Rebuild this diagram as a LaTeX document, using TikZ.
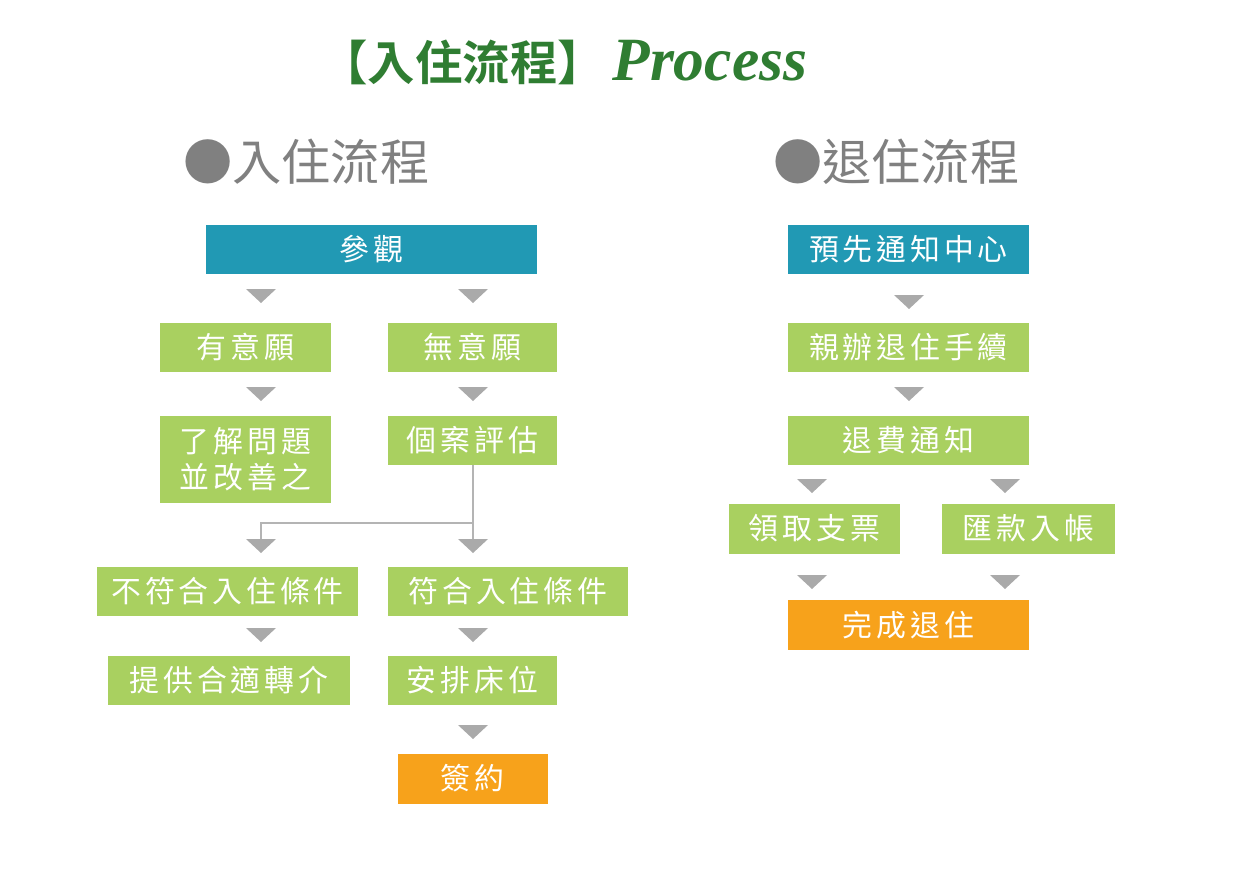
\documentclass[tikz,border=0pt]{standalone}
\usepackage{fontspec}
\newfontfamily\cjk[LetterSpace=13]{Noto Sans CJK TC}
\newfontfamily\cjkh{Noto Sans CJK TC}
\newfontfamily\cjkb[BoldFont=* Bold]{Noto Sans CJK TC}
\newfontfamily\procfont{Liberation Serif}
\definecolor{teal}{RGB}{33,153,180}
\definecolor{lgreen}{RGB}{169,208,96}
\definecolor{orng}{RGB}{247,162,27}
\definecolor{trigray}{RGB}{170,170,170}
\definecolor{linegray}{RGB}{180,180,180}
\definecolor{headgray}{RGB}{128,128,128}
\definecolor{titlegreen}{RGB}{47,125,50}
\tikzset{
  sz/.style 2 args={minimum width=#1*0.02cm, minimum height=#2*0.02cm},
  box/.style={inner sep=0pt, outer sep=0pt, text=white, font=\cjk\fontsize{17}{20.5}\selectfont, align=center},
  gbox/.style={box, fill=lgreen},
  tbox/.style={box, fill=teal},
  obox/.style={box, fill=orng},
  tri/.style={fill=trigray},
  conn/.style={draw=linegray, line width=1.2pt},
  heading/.style={anchor=west, inner sep=0pt, text=headgray, font=\cjkh\fontsize{28}{31}\selectfont},
}
\newcommand{\tridown}[1]{\fill[tri] (#1) ++(-15,0) -- ++(30,0) -- ++(-15,14) -- cycle;}
\begin{document}
\begin{tikzpicture}[x=0.02cm,y=-0.02cm]
\useasboundingbox (0,0) rectangle (1250,876);
% title
\node[anchor=west, inner sep=0pt, text=titlegreen] (title) at (320,62)
  {{\cjkb\bfseries\fontsize{27}{30}\selectfont 【入住流程】}\hspace{0.15cm}{\procfont\bfseries\itshape\fontsize{35}{38}\selectfont Process}};
% headings
\node[heading] (h1) at (183,162) {●入住流程};
\node[heading] (h2) at (773,162) {●退住流程};
% left flow
\node[tbox, sz={331}{49}] (cg) at (371.5,249.5) {參觀};
\node[gbox, sz={171}{49}] (y1) at (245.5,347.5) {有意願};
\node[gbox, sz={169}{49}] (n1) at (472.5,347.5) {無意願};
\node[gbox, sz={171}{87}] (u1) at (245.5,459.5) {了解問題\\並改善之};
\node[gbox, sz={169}{49}] (ge) at (472.5,440.5) {個案評估};
\node[gbox, sz={261}{49}] (bf) at (227.5,591.5) {不符合入住條件};
\node[gbox, sz={240}{49}] (fh) at (508,591.5) {符合入住條件};
\node[gbox, sz={242}{49}] (tg) at (229,680.5) {提供合適轉介};
\node[gbox, sz={169}{49}] (ap) at (472.5,680.5) {安排床位};
\node[obox, sz={150}{50}] (qy) at (472.5,778.5) {簽約};
% right flow
\node[tbox, sz={241}{49}] (yx) at (908.5,249.5) {預先通知中心};
\node[gbox, sz={241}{49}] (qb) at (908.5,347.5) {親辦退住手續};
\node[gbox, sz={241}{49}] (tf) at (908.5,440.5) {退費通知};
\node[gbox, sz={171}{50}] (lq) at (814.5,528.5) {領取支票};
\node[gbox, sz={173}{50}] (hk) at (1028.5,528.5) {匯款入帳};
\node[obox, sz={241}{50}] (wc) at (908.5,625) {完成退住};
% triangle markers
\coordinate (a1) at (261,289);
\coordinate (a2) at (473,289);
\coordinate (a3) at (261,387);
\coordinate (a4) at (473,387);
\coordinate (a5) at (261,539);
\coordinate (a6) at (473,539);
\coordinate (a7) at (261,628);
\coordinate (a8) at (473,628);
\coordinate (a9) at (473,725);
\coordinate (b1) at (909,295);
\coordinate (b2) at (909,387);
\coordinate (b3) at (812,479);
\coordinate (b4) at (1005,479);
\coordinate (b5) at (812,575);
\coordinate (b6) at (1005,575);
\foreach \t in {a1,a2,a3,a4,a5,a6,a7,a8,a9,b1,b2,b3,b4,b5,b6} {\tridown{\t}}
% connector from 個案評估
\coordinate (j) at (473,523);
\draw[conn] (ge.south -| a6) -- (j) -| (a5);
\draw[conn] (j) -- (a6);
\end{tikzpicture}
\end{document}
